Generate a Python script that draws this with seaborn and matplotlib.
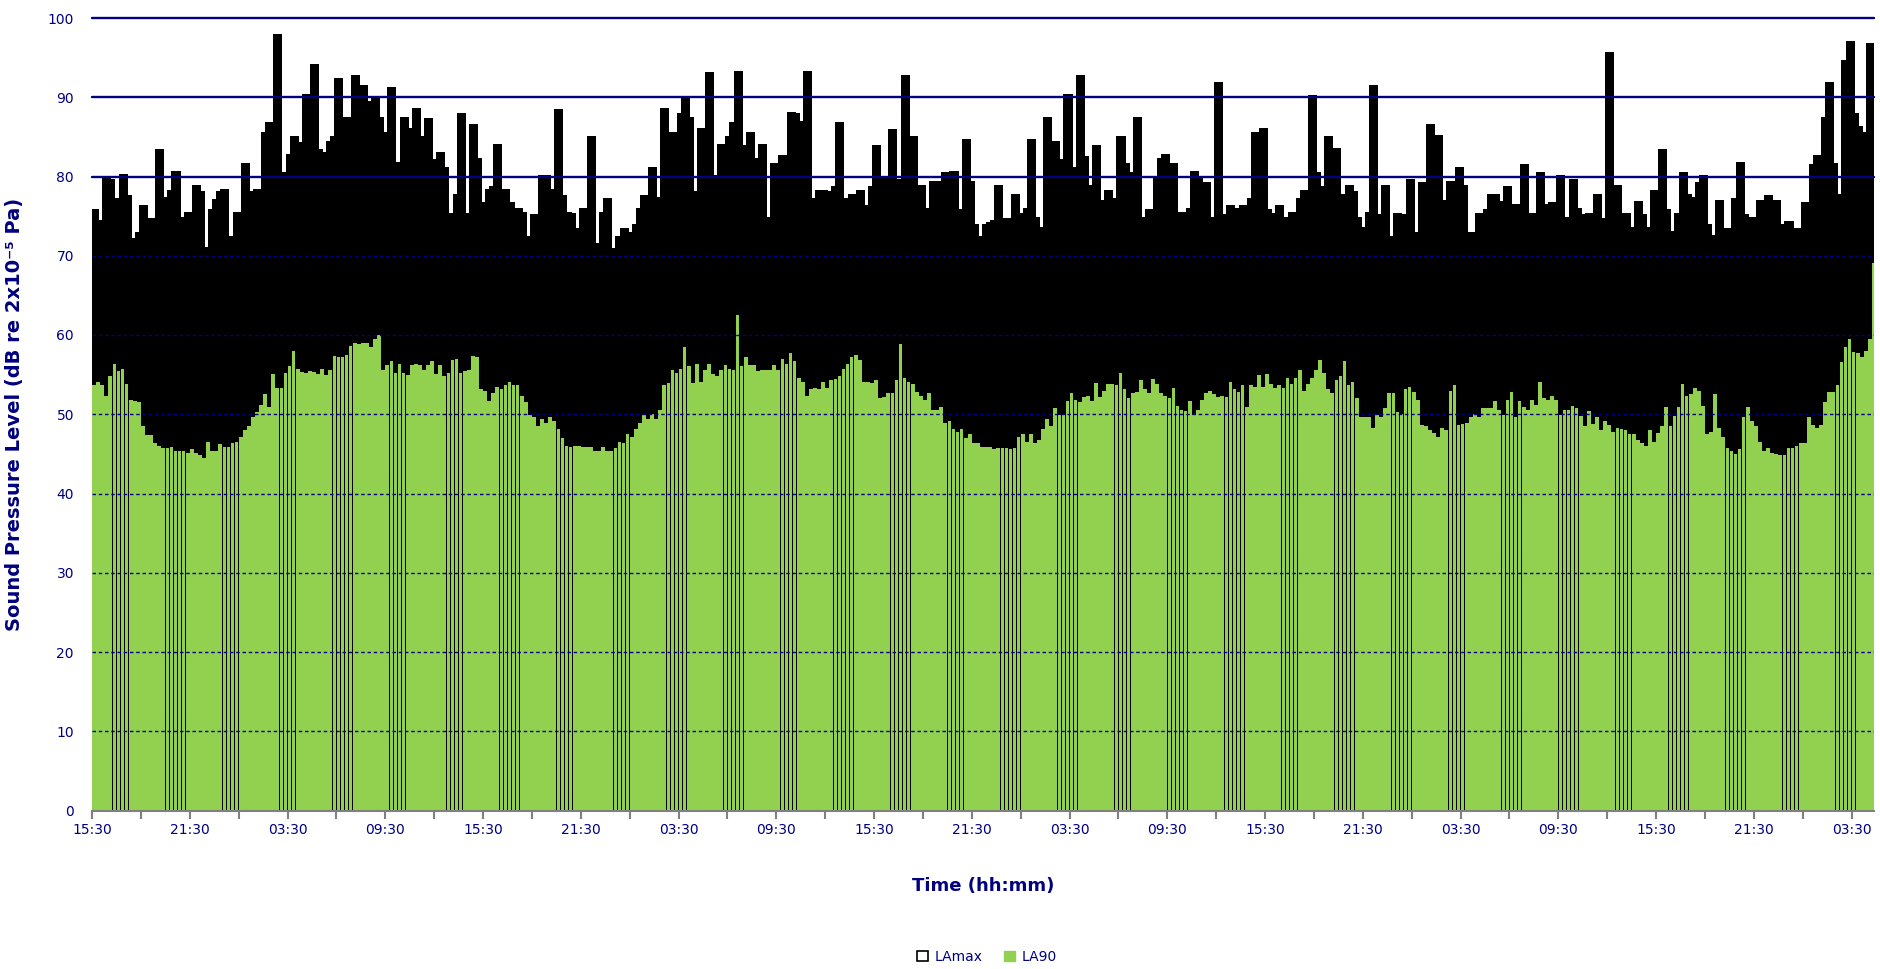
import matplotlib
matplotlib.use("Agg")
import matplotlib.pyplot as plt
from matplotlib.patches import Patch
import pandas as pd
import seaborn as sns

# 15-minute sound levels, dB(A), starting 15:30
lamax = [
    75.7, 74.2, 72.2, 79.8, 79.4, 77.0, 75.1, 80.1, 77.4, 71.8,
    72.0, 72.8, 76.2, 72.7, 74.5, 73.8, 83.2, 77.2, 70.2, 78.0,
    80.5, 68.1, 74.7, 75.3, 68.8, 78.7, 77.9, 70.9, 63.7, 75.6,
    76.9, 77.9, 78.2, 71.1, 72.2, 75.3, 72.3, 81.4, 72.2, 77.9,
    78.2, 78.2, 85.4, 86.6, 85.1, 97.7, 79.2, 80.3, 82.6, 84.8,
    84.1, 83.6, 90.2, 88.8, 94.0, 83.2, 82.6, 82.8, 84.2, 84.8,
    92.2, 86.6, 87.2, 80.3, 92.5, 89.5, 91.3, 81.9, 89.3, 89.7,
    87.2, 85.4, 80.3, 91.1,
    76.5, 81.6, 87.2, 83.8, 85.9, 88.4, 84.8, 77.6, 87.1, 81.9,
    76.2, 82.8, 80.9, 75.1, 74.5, 77.5, 87.8, 75.1, 72.4, 86.4,
    82.1, 72.7, 76.5, 78.2, 78.6, 83.9, 77.0, 78.2, 76.5, 72.3,
    75.8, 75.3, 72.2, 70.7, 75.0, 73.6, 80.0, 80.0, 75.6, 78.2,
    88.3, 77.4, 75.3, 75.1, 73.3, 72.2, 75.8, 75.7, 84.9, 71.3,
    68.8, 75.3, 77.0, 70.7, 70.4, 72.3, 73.3, 72.8, 67.8, 73.8,
    75.8, 77.4, 76.1, 81.0, 77.2, 77.0, 88.4, 77.9, 85.3, 76.5,
    87.8, 89.7, 87.2,
    76.7, 77.9, 85.9, 84.5, 92.9, 79.9, 73.8, 83.8, 82.0, 84.9,
    86.6, 93.1, 81.3, 83.7, 85.3, 80.8, 82.1, 83.9, 74.5, 74.6,
    81.5, 79.9, 82.5, 82.5, 87.9, 87.8, 84.6, 86.7, 93.1, 73.6,
    77.0, 78.0, 78.1, 73.6, 77.9, 78.6, 86.6, 76.7, 77.0, 77.5,
    73.4, 78.1, 76.1, 72.8, 78.6, 83.7, 73.3, 79.6, 77.9, 85.7,
    75.8, 79.4, 92.5, 74.5, 84.9, 71.1, 78.7, 74.2, 75.8, 79.2,
    77.4, 79.2, 80.3, 77.9, 80.5, 74.2, 75.6, 84.5, 79.2, 73.8,
    72.3, 70.4, 73.8,
    74.0, 74.2, 78.7, 72.1, 74.5, 70.8, 77.6, 74.5, 75.1, 75.8,
    84.5, 74.6, 72.9, 73.4, 87.2, 75.7, 84.2, 82.0, 80.4, 90.2,
    79.2, 80.9, 92.5, 82.3, 78.7, 77.0, 83.7, 76.8, 74.1, 78.1,
    77.0, 72.9, 84.9, 81.5, 76.2, 80.3, 87.3, 74.6, 74.5, 75.7,
    74.1, 79.7, 82.1, 82.6, 76.1, 81.5, 71.8, 75.3, 74.5, 75.8,
    80.5, 79.7, 79.0, 79.1, 73.8, 74.6, 91.7, 73.3, 75.0, 76.2,
    75.8, 72.8, 76.2, 72.4, 77.0, 85.3, 72.9, 85.9, 75.7, 75.1,
    74.1, 76.2, 74.6,
    73.8, 75.3, 72.7, 77.0, 78.0, 77.0, 90.0, 80.3, 76.3, 78.6,
    84.9, 75.6, 83.4, 75.1, 77.5, 78.7, 77.9, 74.6, 73.4, 72.8,
    75.3, 91.3, 74.1, 75.0, 78.7, 72.2, 70.9, 75.2, 75.0, 66.1,
    79.4, 67.3, 72.8, 79.1, 73.6, 86.4, 70.7, 85.0, 76.8, 70.2,
    79.2, 77.9, 81.0, 78.7, 71.3, 72.7, 70.9, 75.1, 74.1, 75.6,
    77.6, 77.5, 71.8, 76.7, 78.6, 72.4, 76.3, 72.8, 81.3, 74.5,
    75.1, 73.3, 80.3, 76.3, 73.8, 76.5, 76.2, 79.9, 74.6, 73.4,
    79.4, 75.8, 73.6,
    75.0, 75.1, 72.9, 77.5, 71.7, 74.5, 95.4, 70.0, 78.7, 75.1,
    75.1, 72.8, 73.4, 76.7, 75.0, 70.2, 73.4, 78.0, 76.3, 83.2,
    75.7, 72.9, 72.9, 75.2, 80.3, 77.5, 74.1, 77.2, 79.0, 80.0,
    73.8, 72.4, 72.3, 76.8, 71.7, 73.3, 72.3, 77.0, 81.6, 75.0,
    72.2, 74.6, 70.7, 76.8, 65.0, 77.4, 66.5, 76.8, 73.8, 73.3,
    74.1, 73.3, 73.3, 71.7, 76.5, 74.2, 81.3, 82.5, 76.5, 87.3,
    91.7, 81.5, 77.6, 76.2, 94.5, 96.9, 87.7, 86.1, 85.4, 85.0,
    96.6, 73.4,
]

la90 = [
    53.7, 54.1, 53.7, 52.3, 54.8, 56.3, 55.5, 55.7, 53.8, 51.8,
    51.7, 51.6, 48.5, 47.4, 47.4, 46.4, 46.0, 45.8, 45.8, 45.9,
    45.4, 45.4, 45.4, 45.1, 45.6, 45.1, 44.9, 44.5, 46.5, 45.4,
    45.3, 46.3, 45.9, 45.9, 46.4, 46.5, 47.1, 48.0, 48.5, 49.7,
    50.3, 51.2, 52.6, 50.9, 55.1, 53.3, 53.3, 55.2, 56.1, 58.0,
    55.7, 55.3, 55.2, 55.5, 55.3, 55.1, 55.7, 55.0, 55.6, 57.4,
    57.2, 57.2, 57.5, 58.6, 59.0, 58.9, 59.0, 59.0, 58.5, 59.5,
    60.0, 55.6, 56.2, 56.7,
    55.2, 56.3, 55.2, 55.0, 56.2, 56.3, 56.2, 55.6, 56.2, 56.7,
    55.1, 56.2, 54.8, 55.2, 56.8, 57.0, 55.2, 55.5, 55.6, 57.4,
    57.2, 53.2, 52.9, 51.7, 52.7, 53.4, 53.2, 53.7, 54.1, 53.7,
    53.7, 52.3, 51.6, 49.9, 49.7, 48.5, 49.4, 48.9, 49.7, 49.2,
    48.2, 47.0, 46.0, 45.9, 46.0, 46.0, 45.9, 45.9, 45.9, 45.4,
    45.3, 45.9, 45.4, 45.4, 45.8, 46.5, 46.4, 47.5, 47.1, 48.2,
    48.9, 49.9, 49.4, 50.0, 49.4, 50.5, 53.7, 53.9, 55.6, 55.2,
    55.7, 58.5, 56.1,
    53.9, 56.3, 54.1, 55.6, 56.3, 55.1, 54.8, 55.6, 56.2, 55.7,
    55.6, 62.5, 56.1, 57.2, 56.2, 56.2, 55.5, 55.6, 55.6, 55.6,
    56.2, 55.6, 57.0, 56.3, 57.7, 56.7, 54.6, 54.1, 52.3, 53.2,
    53.3, 53.2, 54.1, 53.3, 54.3, 54.5, 54.8, 55.7, 56.3, 57.2,
    57.5, 56.8, 54.1, 54.1, 53.9, 54.3, 52.1, 52.2, 52.7, 52.7,
    54.3, 58.9, 54.6, 54.1, 53.8, 52.8, 52.3, 51.8, 52.7, 50.5,
    50.5, 50.9, 48.9, 49.2, 48.2, 47.8, 48.2, 47.0, 47.5, 46.4,
    46.4, 45.9, 45.9,
    45.9, 45.6, 45.8, 45.8, 45.8, 45.6, 45.8, 47.1, 47.5, 46.5,
    47.5, 46.4, 46.8, 48.2, 49.4, 48.5, 50.8, 49.9, 49.9, 51.7,
    52.7, 51.8, 51.6, 52.2, 52.3, 51.7, 53.9, 52.2, 52.9, 53.8,
    53.8, 53.7, 55.2, 53.2, 52.1, 52.7, 52.8, 54.3, 53.2, 52.7,
    54.5, 53.8, 52.7, 52.3, 52.1, 53.3, 51.1, 50.5, 50.4, 51.7,
    49.9, 50.5, 51.8, 52.7, 52.9, 52.6, 52.2, 52.3, 52.2, 54.1,
    53.2, 52.8, 53.7, 50.9, 53.7, 53.4, 55.0, 53.4, 55.1, 53.8,
    53.3, 53.7, 53.3,
    54.6, 53.8, 54.6, 55.6, 52.9, 53.8, 54.6, 55.6, 56.8, 55.2,
    53.2, 52.7, 54.3, 54.8, 56.7, 53.7, 54.1, 52.1, 49.7, 49.7,
    49.7, 48.3, 49.9, 49.7, 50.8, 52.7, 52.7, 50.3, 50.0, 53.2,
    53.4, 52.8, 51.8, 48.7, 48.5, 48.0, 47.6, 47.1, 48.3, 48.0,
    52.9, 53.7, 48.7, 48.8, 48.9, 49.7, 50.0, 49.7, 50.8, 50.8,
    50.8, 51.7, 50.5, 49.9, 51.8, 52.8, 49.7, 51.7, 50.9, 50.5,
    51.8, 51.2, 54.1, 52.1, 51.8, 52.3, 51.8, 49.9, 50.5, 50.5,
    51.1, 50.8, 49.8,
    48.5, 50.4, 48.8, 49.7, 48.0, 49.2, 48.7, 47.8, 48.3, 48.2,
    48.0, 47.5, 47.5, 46.8, 46.4, 46.0, 48.0, 46.5, 47.6, 48.5,
    50.9, 48.5, 49.8, 50.9, 53.8, 52.3, 52.6, 53.3, 52.9, 51.1,
    47.5, 47.8, 52.6, 48.3, 47.1, 45.8, 45.3, 45.0, 45.6, 49.7,
    50.9, 49.2, 48.5, 46.5, 45.4, 45.8, 45.1, 45.0, 44.9, 44.9,
    45.8, 45.8, 46.0, 46.4, 46.4, 49.7, 48.7, 48.3, 48.7, 51.6,
    52.8, 52.8, 53.7, 56.6, 58.5, 59.5, 57.9, 57.7, 57.2, 58.0,
    59.5, 69.1,
]

time_labels = [
    "15:30", "21:30", "03:30", "09:30", "15:30", "21:30", "03:30",
    "09:30", "15:30", "21:30", "03:30", "09:30", "15:30", "21:30",
    "03:30", "09:30", "15:30", "21:30", "03:30",
]

NAVY = "#000080"
GREEN = "#92D050"
GREY = "#808080"

df = pd.DataFrame({"slot": range(len(lamax)), "LAmax": lamax, "LA90": la90})

sns.set_style("white")
plt.rcParams["font.family"] = ["DejaVu Sans"]

W, H = 1881, 969
fig = plt.figure(figsize=(W / 100, H / 100), dpi=100)
ax = fig.add_axes([92 / W, 1 - 810.5 / H, (1874 - 92) / W, (810.5 - 18) / H])

# thick outlines so the narrow white bars read mostly black, as in the original
sns.barplot(data=df, x="slot", y="LAmax", color="white", edgecolor="black",
            linewidth=2.3, width=1.0, saturation=1, errorbar=None, ax=ax,
            zorder=1, antialiased=False)
sns.barplot(data=df, x="slot", y="LA90", color=GREEN, linewidth=0,
            width=0.9, saturation=1, errorbar=None, ax=ax, zorder=2,
            antialiased=False)

# grid: dotted below 80, solid from 80 up, drawn over the bars
for v in range(10, 80, 10):
    ax.axhline(v, color=NAVY, lw=1.0, ls=(0, (2.5, 2)), zorder=3)
for v in (80, 90, 100):
    ax.axhline(v, color=NAVY, lw=1.7, zorder=3, clip_on=False)

ax.set_ylim(0, 100)
ax.set_xlim(-0.5, 437.0)

n_ticks = len(time_labels) * 2 - 1
ax.set_xticks([i * 12 - 0.5 for i in range(n_ticks)])
ax.set_xticklabels([time_labels[i // 2] if i % 2 == 0 else "" for i in range(n_ticks)])
ax.set_yticks(range(0, 101, 10))

for side in ("top", "left", "right"):
    ax.spines[side].set_visible(False)
ax.spines["bottom"].set_color(GREY)
ax.spines["bottom"].set_linewidth(1.5)
ax.spines["bottom"].set_zorder(4)

ax.tick_params(axis="x", length=6, width=1.5, color=GREY, labelcolor=NAVY,
               labelsize=10, pad=3, bottom=True)
ax.tick_params(axis="y", length=0, labelcolor=NAVY, labelsize=10, pad=13)

ax.set_xlabel("Time (hh:mm)", color=NAVY, fontsize=13, fontweight="bold")
ax.set_ylabel("Sound Pressure Level (dB re 2x10⁻⁵ Pa)", color=NAVY,
              fontsize=14, fontweight="bold")
ax.xaxis.set_label_coords(0.5, -0.084)
ax.yaxis.set_label_coords(-68 / 1782, 0.5)

handles = [Patch(facecolor="white", edgecolor="black", linewidth=1.2),
           Patch(facecolor=GREEN, edgecolor=GREEN)]
fig.legend(handles, ["LAmax", "LA90"], loc="center",
           bbox_to_anchor=(987 / W, 1 - 957 / H), ncol=2, frameon=False,
           fontsize=10, labelcolor=NAVY, handlelength=0.8, handleheight=0.8,
           handletextpad=0.5, columnspacing=1.5)

fig.savefig("out.png", dpi=100)
